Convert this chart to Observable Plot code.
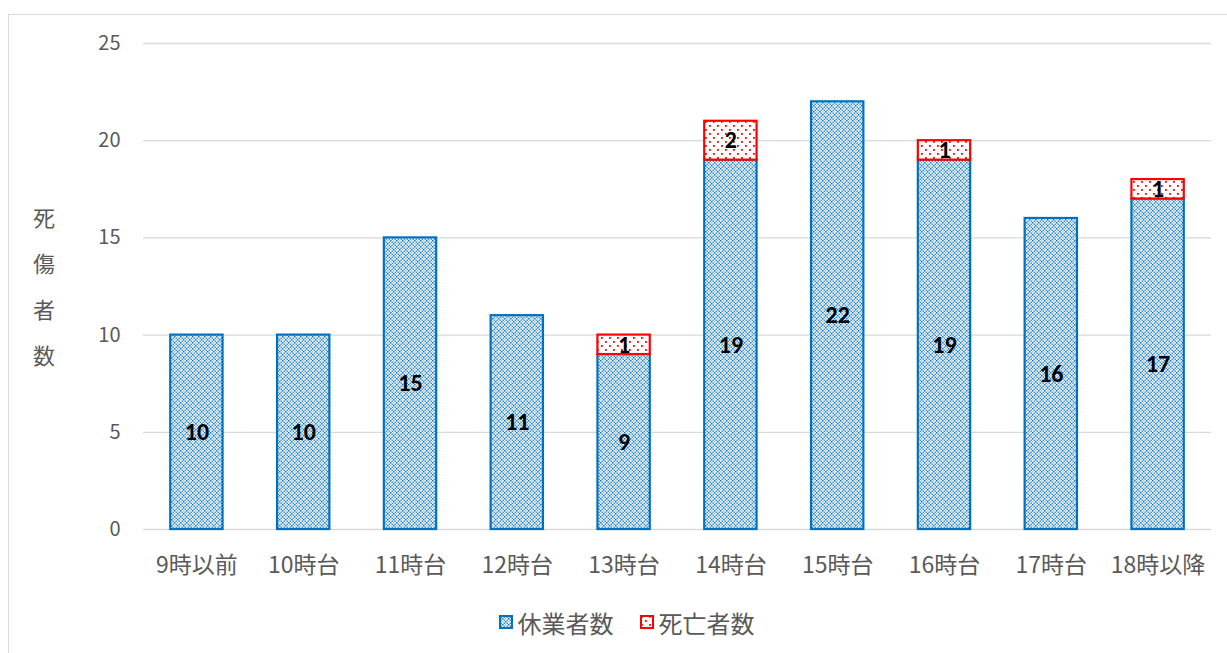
<!DOCTYPE html>
<html><head><meta charset="utf-8">
<script src="https://cdn.jsdelivr.net/npm/d3@7"></script>
<script src="https://cdn.jsdelivr.net/npm/@observablehq/plot@0.6"></script>
<style>
html,body{margin:0;padding:0;background:#fff;overflow:hidden;width:1227px;height:653px;}
#wrap{position:relative;width:1227px;height:653px;font-family:"Noto Sans CJK JP","Noto Sans",sans-serif;}
#frame{position:absolute;left:8px;top:14px;width:1240px;height:700px;border:1px solid #d9d9d9;box-sizing:border-box;}
#ytitle{position:absolute;left:30px;top:193px;width:28px;font-size:22px;line-height:46px;color:#595959;text-align:center;}
#legend{position:absolute;left:13px;top:601px;width:1227px;text-align:center;font-size:24px;color:#595959;}
#legend span.item{display:inline-flex;align-items:center;margin:0 13px;}
#legend svg{margin-right:5px;}
#chart{position:absolute;left:0;top:0;}
</style></head>
<body><div id="wrap"><div id="frame"></div><div id="chart"></div><div id="ytitle"></div><div id="legend"></div></div>
<script>
const hours = ["9時以前","10時台","11時台","12時台","13時台","14時台","15時台","16時台","17時台","18時以降"];
const kyugyo = [10,10,15,11,9,19,22,19,16,17];
const shibou = [0,0,0,0,1,2,0,1,0,1];
const yTicks = [0,5,10,15,20,25];
const seriesNames = ["休業者数","死亡者数"];
const yTitle = "死傷者数";

const blue = "#0070C0", red = "#FF0000";
const rows = hours.map((h,i)=>({h, k:kyugyo[i], s:shibou[i], top:kyugyo[i]+shibou[i]}));
const deaths = rows.filter(d=>d.s>0);
const labelFont = "Carlito, Calibri, 'Liberation Sans', sans-serif";

const chart = Plot.plot({
  width:1227, height:653,
  marginTop:43, marginBottom:124, marginLeft:143, marginRight:16,
  style:{fontFamily:'"Noto Sans CJK JP","Noto Sans",sans-serif', fontSize:"20px", color:"#595959", background:"transparent"},
  x:{domain:hours, paddingInner:0.51, paddingOuter:0.255, round:false, label:null},
  y:{domain:[0,25], ticks:yTicks, label:null, tickSize:0, tickPadding:23, grid:false},
  marks:[
    Plot.ruleY(yTicks,{stroke:"#d9d9d9", strokeWidth:1.3}),
    Plot.barY(rows,{x:"h", y1:0, y2:"k", fill:"url(#pblue)", stroke:blue, strokeWidth:2.2, inset:0}),
    Plot.barY(deaths,{x:"h", y1:"k", y2:"top", fill:"url(#pred)", stroke:red, strokeWidth:2.2, inset:0}),
    Plot.axisX({tickSize:0, tickPadding:27, fontSize:23, label:null}),
    Plot.text(rows,{x:"h", y:d=>d.k/2, text:d=>String(d.k), fill:"black", fontWeight:"bold", fontSize:24, fontFamily:labelFont}),
    Plot.text(deaths,{x:"h", y:d=>d.k+d.s/2, text:d=>String(d.s), fill:"black", fontWeight:"bold", fontSize:24, fontFamily:labelFont})
  ]
});

const defs = `<defs>
<pattern id="pblue" patternUnits="userSpaceOnUse" width="6" height="6">
<rect width="6" height="6" fill="#fff"/>
<rect x="0" y="0" width="1.5" height="1.5" fill="${blue}"/>
<rect x="3" y="3" width="1.5" height="1.5" fill="${blue}"/>
<rect x="1.5" y="1.5" width="1.5" height="1.5" fill="#3d8fd4"/>
<rect x="4.5" y="4.5" width="1.5" height="1.5" fill="#3d8fd4"/>
<rect x="4.5" y="1.5" width="1.5" height="1.5" fill="#3d8fd4"/>
<rect x="1.5" y="4.5" width="1.5" height="1.5" fill="#3d8fd4"/>
<rect x="3" y="0" width="1.5" height="1.5" fill="#9cc7ea"/>
<rect x="0" y="3" width="1.5" height="1.5" fill="#9cc7ea"/>
</pattern>
<pattern id="pred" patternUnits="userSpaceOnUse" width="8" height="8">
<rect width="8" height="8" fill="#fff"/>
<rect x="1" y="1" width="1.8" height="1.8" fill="${red}"/>
<rect x="5" y="5" width="1.8" height="1.8" fill="${red}"/>
</pattern></defs>`;
chart.insertAdjacentHTML("afterbegin", defs);
document.getElementById("chart").appendChild(chart);

document.getElementById("ytitle").innerHTML = [...yTitle].map(c=>`<div>${c}</div>`).join("");
const sw = [
 `<svg width="14" height="14"><rect x="1" y="1" width="12" height="12" fill="url(#pblue)" stroke="${blue}" stroke-width="2"/></svg>`,
 `<svg width="14" height="14"><rect x="1" y="1" width="12" height="12" fill="url(#pred)" stroke="${red}" stroke-width="2"/></svg>`
];
document.getElementById("legend").innerHTML = seriesNames.map((n,i)=>`<span class="item">${sw[i]}${n}</span>`).join("");
</script></body></html>
